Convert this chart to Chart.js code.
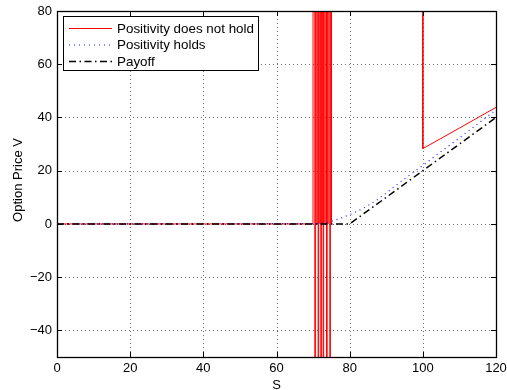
<!DOCTYPE html>
<html>
<head>
<meta charset="utf-8">
<script src="https://cdn.jsdelivr.net/npm/chart.js@4.4.1/dist/chart.umd.min.js"></script>
<style>
  html, body { margin: 0; padding: 0; background: #fff; }
  #wrap { width: 507px; height: 390px; position: relative; }
</style>
</head>
<body>
<div id="wrap"><canvas id="c" width="507" height="390"></canvas></div>
<script>
// Stock price grid and option values for the three curves.
// Values far outside the axis range (±5000) stand for the unstable
// scheme blowing up; they are clipped by the plot box.
const redS = [0, 69.98, 70.43, 70.53, 70.63, 71.07, 71.33, 71.43, 71.53, 71.89, 72.07, 72.17, 72.27,
  72.5, 72.7, 72.8, 72.9, 73.26, 73.63, 73.73, 73.83, 74.08, 74.53, 74.63, 74.73, 75.04, 75.2,
  100, 100, 110, 120];
const redV = [0, 0, 5000, -5000, 5000, 0, 5000, -5000, 5000, 0, 5000, -5000, 5000,
  0, 5000, -5000, 5000, 0, 5000, -5000, 5000, 0, 5000, -5000, 5000, 0, 5000,
  5000, 28.3, 36, 43.8];

const blueS = [0, 72, 74, 76, 78, 80, 82, 84, 86, 88, 90, 92, 94, 96, 98, 100, 105, 110, 115, 120];
const blueV = [0, 0.1, 0.6, 1.4, 2.4, 3.5, 4.7, 6.1, 7.7, 9.5, 11.6, 13.8, 15.9, 18.0, 20.0, 22.0, 27.2, 32.3, 37.6, 42.8];

const payS = [0, 80, 120];
const payV = [0, 0, 40];

const xTicks = [0, 20, 40, 60, 80, 100, 120];
const yTicks = [-40, -20, 0, 20, 40, 60, 80];

const seriesLabels = ['Positivity does not hold', 'Positivity holds', 'Payoff'];

const pts = (xs, ys) => xs.map((x, i) => ({ x: x, y: ys[i] }));

Chart.defaults.font.family = '"Liberation Sans", Arial, Helvetica, sans-serif';
Chart.defaults.font.size = 13;
Chart.defaults.color = '#000';

const FONT = '13px "Liberation Sans", Arial, Helvetica, sans-serif';

// Dotted grid, boxed frame with inward ticks, legend and axis titles
const matlabAxes = {
  id: 'matlabAxes',
  beforeDatasetsDraw(chart) {
    const { ctx, chartArea: a, scales: { x, y } } = chart;
    ctx.save();
    ctx.strokeStyle = '#6e6e6e';
    ctx.lineWidth = 1;
    ctx.setLineDash([1, 3]);
    xTicks.forEach(v => {
      const px = Math.round(x.getPixelForValue(v)) + 0.5;
      if (px <= a.left + 1 || px >= a.right - 1) return;
      ctx.beginPath(); ctx.moveTo(px, a.top); ctx.lineTo(px, a.bottom); ctx.stroke();
    });
    yTicks.forEach(v => {
      const py = Math.round(y.getPixelForValue(v)) + 0.5;
      if (py <= a.top + 1 || py >= a.bottom - 1) return;
      ctx.beginPath(); ctx.moveTo(a.left, py); ctx.lineTo(a.right, py); ctx.stroke();
    });
    ctx.restore();
  },
  afterDatasetsDraw(chart) {
    const { ctx, chartArea: a, scales: { x, y } } = chart;
    ctx.save();
    ctx.setLineDash([]);
    ctx.strokeStyle = '#000';
    ctx.lineWidth = 1.3;
    ctx.strokeRect(a.left + 0.5, a.top + 0.5, a.right - a.left, a.bottom - a.top);
    const tl = 5;
    ctx.lineWidth = 1;
    xTicks.forEach(v => {
      const px = Math.round(x.getPixelForValue(v)) + 0.5;
      ctx.beginPath();
      ctx.moveTo(px, a.bottom); ctx.lineTo(px, a.bottom - tl);
      ctx.moveTo(px, a.top); ctx.lineTo(px, a.top + tl);
      ctx.stroke();
    });
    yTicks.forEach(v => {
      const py = Math.round(y.getPixelForValue(v)) + 0.5;
      ctx.beginPath();
      ctx.moveTo(a.left, py); ctx.lineTo(a.left + tl, py);
      ctx.moveTo(a.right, py); ctx.lineTo(a.right - tl, py);
      ctx.stroke();
    });

    // legend
    const lx = 63.5, ly = 16.5, lw = 195, lh = 54;
    ctx.fillStyle = '#fff';
    ctx.fillRect(lx, ly, lw, lh);
    ctx.strokeStyle = '#000';
    ctx.lineWidth = 1;
    ctx.strokeRect(lx, ly, lw, lh);
    const rows = [28.5, 45, 61.5];
    chart.data.datasets.forEach((ds, i) => {
      ctx.save();
      ctx.strokeStyle = ds.borderColor;
      ctx.lineWidth = ds.borderWidth;
      ctx.setLineDash(ds.borderDash || []);
      ctx.beginPath();
      ctx.moveTo(69, rows[i]); ctx.lineTo(112, rows[i]);
      ctx.stroke();
      ctx.restore();
      ctx.fillStyle = '#000';
      ctx.font = '13.4px "Liberation Sans", Arial, Helvetica, sans-serif';
      ctx.textBaseline = 'middle';
      ctx.textAlign = 'left';
      ctx.fillText(ds.label, 117, rows[i] + 0.5);
    });

    // axis titles
    ctx.fillStyle = '#000';
    ctx.font = FONT;
    ctx.textAlign = 'center';
    ctx.textBaseline = 'alphabetic';
    ctx.fillText('S', (a.left + a.right) / 2, 389);
    ctx.translate(22, 180);
    ctx.rotate(-Math.PI / 2);
    ctx.fillText('Option Price V', 0, 0);
    ctx.restore();
  }
};

new Chart(document.getElementById('c'), {
  type: 'line',
  data: {
    datasets: [
      { label: seriesLabels[0], data: pts(redS, redV), borderColor: '#ff0000', borderWidth: 1, order: 3 },
      { label: seriesLabels[1], data: pts(blueS, blueV), borderColor: '#2020ff', borderWidth: 1.2, borderDash: [1, 4], order: 2 },
      { label: seriesLabels[2], data: pts(payS, payV), borderColor: '#000000', borderWidth: 1.5, borderDash: [7, 3.5, 1.5, 3.5], order: 1 }
    ]
  },
  options: {
    responsive: false,
    animation: false,
    events: [],
    elements: { point: { radius: 0 }, line: { tension: 0 } },
    layout: { padding: { left: 0, right: 11, top: 11, bottom: 0 } },
    plugins: { legend: { display: false }, tooltip: { enabled: false } },
    scales: {
      x: {
        type: 'linear', min: 0, max: 120,
        grid: { display: false, drawTicks: false },
        border: { display: false },
        afterBuildTicks: s => { s.ticks = xTicks.map(v => ({ value: v })); },
        afterFit: s => { s.height = 33; s.paddingLeft = 0; s.paddingRight = 0; },
        ticks: { padding: 4, maxRotation: 0, callback: v => String(v) }
      },
      y: {
        type: 'linear', min: -50, max: 80,
        grid: { display: false, drawTicks: false },
        border: { display: false },
        afterBuildTicks: s => { s.ticks = yTicks.map(v => ({ value: v })); },
        afterFit: s => { s.width = 57; s.paddingTop = 0; s.paddingBottom = 0; },
        ticks: { padding: 5, callback: v => (v < 0 ? '\u2212' + Math.abs(v) : String(v)) }
      }
    }
  },
  plugins: [matlabAxes]
});
</script>
</body>
</html>
